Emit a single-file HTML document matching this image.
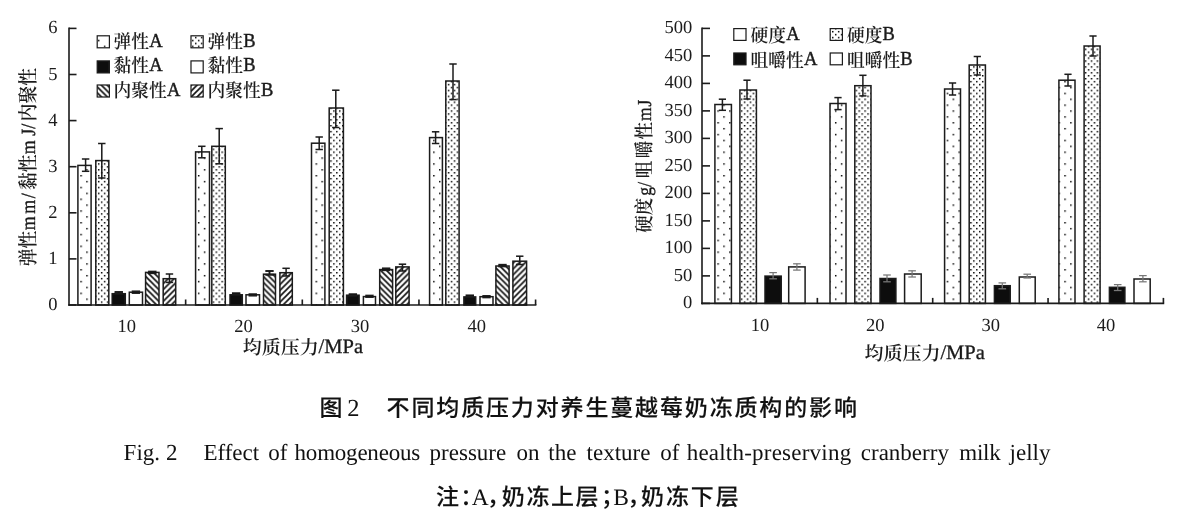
<!DOCTYPE html>
<html lang="zh-CN">
<head>
<meta charset="utf-8">
<title>图2 不同均质压力对养生蔓越莓奶冻质构的影响</title>
<style>
html,body{margin:0;padding:0;background:#fff;}
body{width:1183px;height:521px;overflow:hidden;}
svg{display:block;}
text{white-space:pre;text-rendering:geometricPrecision;}
</style>
</head>
<body>
<svg width="1183" height="521" viewBox="0 0 1183 521">
<defs>
<pattern id="pAL" patternUnits="userSpaceOnUse" width="11.76" height="11.76" x="3.90" y="4.47"><rect width="11.76" height="11.76" fill="#fff"/><rect x="0" y="0" width="1.47" height="1.47" fill="#000"/><rect x="5.88" y="5.88" width="1.47" height="1.47" fill="#000"/></pattern>
<pattern id="pBL" patternUnits="userSpaceOnUse" width="5.88" height="5.88" x="3.89" y="4.47"><rect width="5.88" height="5.88" fill="#fff"/><rect x="0" y="0" width="1.47" height="1.47" fill="#000"/><rect x="2.94" y="2.94" width="1.47" height="1.47" fill="#000"/></pattern>
<pattern id="pAR" patternUnits="userSpaceOnUse" width="11.76" height="11.76" x="0.01" y="4.47"><rect width="11.76" height="11.76" fill="#fff"/><rect x="0" y="0" width="1.47" height="1.47" fill="#000"/><rect x="5.88" y="5.88" width="1.47" height="1.47" fill="#000"/></pattern>
<pattern id="pBR" patternUnits="userSpaceOnUse" width="5.88" height="5.88" x="0.00" y="4.47"><rect width="5.88" height="5.88" fill="#fff"/><rect x="0" y="0" width="1.47" height="1.47" fill="#000"/><rect x="2.94" y="2.94" width="1.47" height="1.47" fill="#000"/></pattern>
<pattern id="pC" patternUnits="userSpaceOnUse" width="5.88" height="5.88" x="0" y="1.40"><rect width="5.88" height="5.88" fill="#fff"/><path d="M-1.47,-1.47 L7.35,7.35 M-1.47,4.41 L1.47,7.35 M4.41,-1.47 L7.35,1.47" stroke="#111" stroke-width="1.65"/></pattern>
<pattern id="pD" patternUnits="userSpaceOnUse" width="5.88" height="5.88" x="0" y="0.00"><rect width="5.88" height="5.88" fill="#fff"/><path d="M-1.47,7.35 L7.35,-1.47 M-1.47,1.47 L1.47,-1.47 M4.41,7.35 L7.35,4.41" stroke="#111" stroke-width="1.65"/></pattern>
<filter id="soft" x="0" y="0" width="1183" height="521" filterUnits="userSpaceOnUse"><feGaussianBlur stdDeviation="0.45"/></filter>
</defs>
<rect x="0" y="0" width="1183" height="521" fill="#fff"/>
<g filter="url(#soft)">
<rect x="77.90" y="165.40" width="13.20" height="139.60" fill="url(#pAL)" stroke="#1a1a1a" stroke-width="1.5"/>
<line x1="85.60" y1="159.00" x2="85.60" y2="171.30" stroke="#1a1a1a" stroke-width="1.5"/>
<line x1="81.90" y1="159.00" x2="89.30" y2="159.00" stroke="#1a1a1a" stroke-width="1.5"/>
<line x1="81.90" y1="171.30" x2="89.30" y2="171.30" stroke="#1a1a1a" stroke-width="1.5"/>
<rect x="95.80" y="160.60" width="13.00" height="144.40" fill="url(#pBL)" stroke="#1a1a1a" stroke-width="1.5"/>
<line x1="101.80" y1="143.50" x2="101.80" y2="178.00" stroke="#1a1a1a" stroke-width="1.5"/>
<line x1="98.10" y1="143.50" x2="105.50" y2="143.50" stroke="#1a1a1a" stroke-width="1.5"/>
<line x1="98.10" y1="178.00" x2="105.50" y2="178.00" stroke="#1a1a1a" stroke-width="1.5"/>
<rect x="112.20" y="293.70" width="13.10" height="11.30" fill="#111" stroke="#1a1a1a" stroke-width="1.5"/>
<line x1="118.75" y1="292.00" x2="118.75" y2="293.60" stroke="#1a1a1a" stroke-width="1.9"/>
<line x1="114.55" y1="292.00" x2="122.95" y2="292.00" stroke="#1a1a1a" stroke-width="1.9"/>
<line x1="114.55" y1="293.60" x2="122.95" y2="293.60" stroke="#1a1a1a" stroke-width="1.9"/>
<rect x="129.30" y="292.20" width="13.20" height="12.80" fill="#fff" stroke="#1a1a1a" stroke-width="1.5"/>
<line x1="135.90" y1="291.40" x2="135.90" y2="293.00" stroke="#1a1a1a" stroke-width="1.9"/>
<line x1="131.70" y1="291.40" x2="140.10" y2="291.40" stroke="#1a1a1a" stroke-width="1.9"/>
<line x1="131.70" y1="293.00" x2="140.10" y2="293.00" stroke="#1a1a1a" stroke-width="1.9"/>
<rect x="145.60" y="272.40" width="13.40" height="32.60" fill="url(#pC)" stroke="#1a1a1a" stroke-width="1.5"/>
<line x1="152.30" y1="271.60" x2="152.30" y2="273.20" stroke="#1a1a1a" stroke-width="1.9"/>
<line x1="148.10" y1="271.60" x2="156.50" y2="271.60" stroke="#1a1a1a" stroke-width="1.9"/>
<line x1="148.10" y1="273.20" x2="156.50" y2="273.20" stroke="#1a1a1a" stroke-width="1.9"/>
<rect x="163.20" y="278.70" width="12.50" height="26.30" fill="url(#pD)" stroke="#1a1a1a" stroke-width="1.5"/>
<line x1="169.45" y1="274.00" x2="169.45" y2="282.40" stroke="#1a1a1a" stroke-width="1.5"/>
<line x1="165.75" y1="274.00" x2="173.15" y2="274.00" stroke="#1a1a1a" stroke-width="1.5"/>
<line x1="165.75" y1="282.40" x2="173.15" y2="282.40" stroke="#1a1a1a" stroke-width="1.5"/>
<rect x="195.60" y="151.90" width="13.90" height="153.10" fill="url(#pAL)" stroke="#1a1a1a" stroke-width="1.5"/>
<line x1="201.80" y1="146.30" x2="201.80" y2="157.80" stroke="#1a1a1a" stroke-width="1.5"/>
<line x1="198.10" y1="146.30" x2="205.50" y2="146.30" stroke="#1a1a1a" stroke-width="1.5"/>
<line x1="198.10" y1="157.80" x2="205.50" y2="157.80" stroke="#1a1a1a" stroke-width="1.5"/>
<rect x="211.80" y="146.30" width="13.50" height="158.70" fill="url(#pBL)" stroke="#1a1a1a" stroke-width="1.5"/>
<line x1="219.20" y1="128.60" x2="219.20" y2="163.80" stroke="#1a1a1a" stroke-width="1.5"/>
<line x1="215.50" y1="128.60" x2="222.90" y2="128.60" stroke="#1a1a1a" stroke-width="1.5"/>
<line x1="215.50" y1="163.80" x2="222.90" y2="163.80" stroke="#1a1a1a" stroke-width="1.5"/>
<rect x="230.00" y="294.80" width="12.30" height="10.20" fill="#111" stroke="#1a1a1a" stroke-width="1.5"/>
<line x1="236.15" y1="293.20" x2="236.15" y2="294.60" stroke="#1a1a1a" stroke-width="1.9"/>
<line x1="231.95" y1="293.20" x2="240.35" y2="293.20" stroke="#1a1a1a" stroke-width="1.9"/>
<line x1="231.95" y1="294.60" x2="240.35" y2="294.60" stroke="#1a1a1a" stroke-width="1.9"/>
<rect x="246.00" y="294.80" width="13.50" height="10.20" fill="#fff" stroke="#1a1a1a" stroke-width="1.5"/>
<line x1="252.75" y1="294.20" x2="252.75" y2="295.60" stroke="#1a1a1a" stroke-width="1.9"/>
<line x1="248.55" y1="294.20" x2="256.95" y2="294.20" stroke="#1a1a1a" stroke-width="1.9"/>
<line x1="248.55" y1="295.60" x2="256.95" y2="295.60" stroke="#1a1a1a" stroke-width="1.9"/>
<rect x="263.50" y="274.20" width="12.00" height="30.80" fill="url(#pC)" stroke="#1a1a1a" stroke-width="1.5"/>
<line x1="269.50" y1="271.00" x2="269.50" y2="274.80" stroke="#1a1a1a" stroke-width="1.9"/>
<line x1="265.30" y1="271.00" x2="273.70" y2="271.00" stroke="#1a1a1a" stroke-width="1.9"/>
<line x1="265.30" y1="274.80" x2="273.70" y2="274.80" stroke="#1a1a1a" stroke-width="1.9"/>
<rect x="279.90" y="272.70" width="12.40" height="32.30" fill="url(#pD)" stroke="#1a1a1a" stroke-width="1.5"/>
<line x1="286.10" y1="268.30" x2="286.10" y2="276.00" stroke="#1a1a1a" stroke-width="1.5"/>
<line x1="282.40" y1="268.30" x2="289.80" y2="268.30" stroke="#1a1a1a" stroke-width="1.5"/>
<line x1="282.40" y1="276.00" x2="289.80" y2="276.00" stroke="#1a1a1a" stroke-width="1.5"/>
<rect x="311.50" y="143.20" width="13.40" height="161.80" fill="url(#pAL)" stroke="#1a1a1a" stroke-width="1.5"/>
<line x1="319.20" y1="137.00" x2="319.20" y2="149.50" stroke="#1a1a1a" stroke-width="1.5"/>
<line x1="315.50" y1="137.00" x2="322.90" y2="137.00" stroke="#1a1a1a" stroke-width="1.5"/>
<line x1="315.50" y1="149.50" x2="322.90" y2="149.50" stroke="#1a1a1a" stroke-width="1.5"/>
<rect x="329.20" y="108.00" width="14.20" height="197.00" fill="url(#pBL)" stroke="#1a1a1a" stroke-width="1.5"/>
<line x1="335.80" y1="90.20" x2="335.80" y2="127.50" stroke="#1a1a1a" stroke-width="1.5"/>
<line x1="332.10" y1="90.20" x2="339.50" y2="90.20" stroke="#1a1a1a" stroke-width="1.5"/>
<line x1="332.10" y1="127.50" x2="339.50" y2="127.50" stroke="#1a1a1a" stroke-width="1.5"/>
<rect x="346.60" y="295.20" width="12.50" height="9.80" fill="#111" stroke="#1a1a1a" stroke-width="1.5"/>
<line x1="352.85" y1="294.20" x2="352.85" y2="295.60" stroke="#1a1a1a" stroke-width="1.9"/>
<line x1="348.65" y1="294.20" x2="357.05" y2="294.20" stroke="#1a1a1a" stroke-width="1.9"/>
<line x1="348.65" y1="295.60" x2="357.05" y2="295.60" stroke="#1a1a1a" stroke-width="1.9"/>
<rect x="363.40" y="296.60" width="12.10" height="8.40" fill="#fff" stroke="#1a1a1a" stroke-width="1.5"/>
<line x1="369.45" y1="295.60" x2="369.45" y2="297.00" stroke="#1a1a1a" stroke-width="1.9"/>
<line x1="365.25" y1="295.60" x2="373.65" y2="295.60" stroke="#1a1a1a" stroke-width="1.9"/>
<line x1="365.25" y1="297.00" x2="373.65" y2="297.00" stroke="#1a1a1a" stroke-width="1.9"/>
<rect x="379.70" y="269.60" width="12.90" height="35.40" fill="url(#pC)" stroke="#1a1a1a" stroke-width="1.5"/>
<line x1="386.15" y1="268.40" x2="386.15" y2="270.20" stroke="#1a1a1a" stroke-width="1.9"/>
<line x1="381.95" y1="268.40" x2="390.35" y2="268.40" stroke="#1a1a1a" stroke-width="1.9"/>
<line x1="381.95" y1="270.20" x2="390.35" y2="270.20" stroke="#1a1a1a" stroke-width="1.9"/>
<rect x="395.80" y="266.90" width="13.30" height="38.10" fill="url(#pD)" stroke="#1a1a1a" stroke-width="1.5"/>
<line x1="402.45" y1="264.20" x2="402.45" y2="271.00" stroke="#1a1a1a" stroke-width="1.5"/>
<line x1="398.75" y1="264.20" x2="406.15" y2="264.20" stroke="#1a1a1a" stroke-width="1.5"/>
<line x1="398.75" y1="271.00" x2="406.15" y2="271.00" stroke="#1a1a1a" stroke-width="1.5"/>
<rect x="429.60" y="137.60" width="12.80" height="167.40" fill="url(#pAL)" stroke="#1a1a1a" stroke-width="1.5"/>
<line x1="435.60" y1="131.80" x2="435.60" y2="143.50" stroke="#1a1a1a" stroke-width="1.5"/>
<line x1="431.90" y1="131.80" x2="439.30" y2="131.80" stroke="#1a1a1a" stroke-width="1.5"/>
<line x1="431.90" y1="143.50" x2="439.30" y2="143.50" stroke="#1a1a1a" stroke-width="1.5"/>
<rect x="445.80" y="81.00" width="13.30" height="224.00" fill="url(#pBL)" stroke="#1a1a1a" stroke-width="1.5"/>
<line x1="453.00" y1="64.00" x2="453.00" y2="99.60" stroke="#1a1a1a" stroke-width="1.5"/>
<line x1="449.30" y1="64.00" x2="456.70" y2="64.00" stroke="#1a1a1a" stroke-width="1.5"/>
<line x1="449.30" y1="99.60" x2="456.70" y2="99.60" stroke="#1a1a1a" stroke-width="1.5"/>
<rect x="463.90" y="296.90" width="11.80" height="8.10" fill="#111" stroke="#1a1a1a" stroke-width="1.5"/>
<line x1="469.80" y1="295.40" x2="469.80" y2="296.80" stroke="#1a1a1a" stroke-width="1.9"/>
<line x1="465.60" y1="295.40" x2="474.00" y2="295.40" stroke="#1a1a1a" stroke-width="1.9"/>
<line x1="465.60" y1="296.80" x2="474.00" y2="296.80" stroke="#1a1a1a" stroke-width="1.9"/>
<rect x="480.00" y="296.70" width="13.00" height="8.30" fill="#fff" stroke="#1a1a1a" stroke-width="1.5"/>
<line x1="486.50" y1="296.00" x2="486.50" y2="297.40" stroke="#1a1a1a" stroke-width="1.9"/>
<line x1="482.30" y1="296.00" x2="490.70" y2="296.00" stroke="#1a1a1a" stroke-width="1.9"/>
<line x1="482.30" y1="297.40" x2="490.70" y2="297.40" stroke="#1a1a1a" stroke-width="1.9"/>
<rect x="495.90" y="266.00" width="13.20" height="39.00" fill="url(#pC)" stroke="#1a1a1a" stroke-width="1.5"/>
<line x1="502.50" y1="264.80" x2="502.50" y2="266.40" stroke="#1a1a1a" stroke-width="1.9"/>
<line x1="498.30" y1="264.80" x2="506.70" y2="264.80" stroke="#1a1a1a" stroke-width="1.9"/>
<line x1="498.30" y1="266.40" x2="506.70" y2="266.40" stroke="#1a1a1a" stroke-width="1.9"/>
<rect x="512.90" y="261.20" width="13.70" height="43.80" fill="url(#pD)" stroke="#1a1a1a" stroke-width="1.5"/>
<line x1="519.75" y1="256.20" x2="519.75" y2="264.50" stroke="#1a1a1a" stroke-width="1.5"/>
<line x1="516.05" y1="256.20" x2="523.45" y2="256.20" stroke="#1a1a1a" stroke-width="1.5"/>
<line x1="516.05" y1="264.50" x2="523.45" y2="264.50" stroke="#1a1a1a" stroke-width="1.5"/>
<line x1="69.00" y1="27.60" x2="69.00" y2="305.80" stroke="#1a1a1a" stroke-width="1.6"/>
<line x1="68.20" y1="305.00" x2="536.40" y2="305.00" stroke="#1a1a1a" stroke-width="1.6"/>
<line x1="69.00" y1="305.00" x2="76.50" y2="305.00" stroke="#1a1a1a" stroke-width="1.6"/>
<text x="57.40" y="310.00" font-size="18.5" text-anchor="end" font-family='"Liberation Serif", "Noto Serif CJK SC", serif' fill="#1a1a1a" >0</text>
<line x1="69.00" y1="258.90" x2="76.50" y2="258.90" stroke="#1a1a1a" stroke-width="1.6"/>
<text x="57.40" y="263.90" font-size="18.5" text-anchor="end" font-family='"Liberation Serif", "Noto Serif CJK SC", serif' fill="#1a1a1a" >1</text>
<line x1="69.00" y1="212.80" x2="76.50" y2="212.80" stroke="#1a1a1a" stroke-width="1.6"/>
<text x="57.40" y="217.80" font-size="18.5" text-anchor="end" font-family='"Liberation Serif", "Noto Serif CJK SC", serif' fill="#1a1a1a" >2</text>
<line x1="69.00" y1="166.70" x2="76.50" y2="166.70" stroke="#1a1a1a" stroke-width="1.6"/>
<text x="57.40" y="171.70" font-size="18.5" text-anchor="end" font-family='"Liberation Serif", "Noto Serif CJK SC", serif' fill="#1a1a1a" >3</text>
<line x1="69.00" y1="120.60" x2="76.50" y2="120.60" stroke="#1a1a1a" stroke-width="1.6"/>
<text x="57.40" y="125.60" font-size="18.5" text-anchor="end" font-family='"Liberation Serif", "Noto Serif CJK SC", serif' fill="#1a1a1a" >4</text>
<line x1="69.00" y1="74.50" x2="76.50" y2="74.50" stroke="#1a1a1a" stroke-width="1.6"/>
<text x="57.40" y="79.50" font-size="18.5" text-anchor="end" font-family='"Liberation Serif", "Noto Serif CJK SC", serif' fill="#1a1a1a" >5</text>
<line x1="69.00" y1="28.40" x2="76.50" y2="28.40" stroke="#1a1a1a" stroke-width="1.6"/>
<text x="57.40" y="33.40" font-size="18.5" text-anchor="end" font-family='"Liberation Serif", "Noto Serif CJK SC", serif' fill="#1a1a1a" >6</text>
<line x1="185.65" y1="305.00" x2="185.65" y2="299.50" stroke="#1a1a1a" stroke-width="1.6"/>
<line x1="302.30" y1="305.00" x2="302.30" y2="299.50" stroke="#1a1a1a" stroke-width="1.6"/>
<line x1="418.95" y1="305.00" x2="418.95" y2="299.50" stroke="#1a1a1a" stroke-width="1.6"/>
<line x1="535.60" y1="305.00" x2="535.60" y2="299.50" stroke="#1a1a1a" stroke-width="1.6"/>
<text x="126.83" y="332.40" font-size="18.5" text-anchor="middle" font-family='"Liberation Serif", "Noto Serif CJK SC", serif' fill="#1a1a1a" >10</text>
<text x="243.48" y="332.40" font-size="18.5" text-anchor="middle" font-family='"Liberation Serif", "Noto Serif CJK SC", serif' fill="#1a1a1a" >20</text>
<text x="360.12" y="332.40" font-size="18.5" text-anchor="middle" font-family='"Liberation Serif", "Noto Serif CJK SC", serif' fill="#1a1a1a" >30</text>
<text x="476.78" y="332.40" font-size="18.5" text-anchor="middle" font-family='"Liberation Serif", "Noto Serif CJK SC", serif' fill="#1a1a1a" >40</text>
<text x="242.80" y="353.90" font-size="19" text-anchor="start" font-family='"Liberation Serif", "Noto Serif CJK SC", serif' fill="#1a1a1a" font-weight="600">均质压力<tspan x="318.6" dy="-0.8" font-size="20.5" font-weight="400" stroke="#1a1a1a" stroke-width="0.3">/MPa</tspan></text>
<g transform="translate(34.6,266.3) rotate(-90) scale(1,1.13)">
<text x="0.00" y="0.00" font-size="17.8" text-anchor="start" font-family='"Liberation Serif", "Noto Serif CJK SC", serif' fill="#1a1a1a" font-weight="600"><tspan x="0.0">弹性</tspan><tspan x="36.0" font-weight="400" stroke="#1a1a1a" stroke-width="0.3">m</tspan><tspan x="52.5" font-weight="400" stroke="#1a1a1a" stroke-width="0.3">m</tspan><tspan x="68.0" font-weight="400" stroke="#1a1a1a" stroke-width="0.3">/</tspan><tspan x="76.3">黏性</tspan><tspan x="112.0" font-weight="400" stroke="#1a1a1a" stroke-width="0.3">m</tspan><tspan x="130.5" font-weight="400" stroke="#1a1a1a" stroke-width="0.3">J</tspan><tspan x="137.6" font-weight="400" stroke="#1a1a1a" stroke-width="0.3">/</tspan><tspan x="145.0">内聚性</tspan></text>
</g>
<rect x="97.20" y="35.80" width="12.20" height="12.00" fill="url(#pAL)" stroke="#1a1a1a" stroke-width="1.2"/>
<g transform="translate(0,48.00) scale(1,1.07)">
<text x="113.60" y="0.00" font-size="17.7" text-anchor="start" font-family='"Liberation Serif", "Noto Serif CJK SC", serif' fill="#1a1a1a" font-weight="600">弹性<tspan font-size="18.5" font-weight="400" dy="-1.2" dx="0.2" stroke="#1a1a1a" stroke-width="0.4">A</tspan></text>
</g>
<rect x="191.00" y="35.80" width="12.20" height="12.00" fill="url(#pBL)" stroke="#1a1a1a" stroke-width="1.2"/>
<g transform="translate(0,48.00) scale(1,1.07)">
<text x="207.60" y="0.00" font-size="17.7" text-anchor="start" font-family='"Liberation Serif", "Noto Serif CJK SC", serif' fill="#1a1a1a" font-weight="600">弹性<tspan font-size="18.5" font-weight="400" dy="-1.2" dx="0.2" stroke="#1a1a1a" stroke-width="0.4">B</tspan></text>
</g>
<rect x="97.20" y="60.90" width="12.20" height="12.00" fill="#111" stroke="#1a1a1a" stroke-width="1.2"/>
<g transform="translate(0,72.40) scale(1,1.07)">
<text x="113.60" y="0.00" font-size="17.7" text-anchor="start" font-family='"Liberation Serif", "Noto Serif CJK SC", serif' fill="#1a1a1a" font-weight="600">黏性<tspan font-size="18.5" font-weight="400" dy="-1.2" dx="0.2" stroke="#1a1a1a" stroke-width="0.4">A</tspan></text>
</g>
<rect x="191.00" y="60.90" width="12.20" height="12.00" fill="#fff" stroke="#1a1a1a" stroke-width="1.2"/>
<g transform="translate(0,72.40) scale(1,1.07)">
<text x="207.60" y="0.00" font-size="17.7" text-anchor="start" font-family='"Liberation Serif", "Noto Serif CJK SC", serif' fill="#1a1a1a" font-weight="600">黏性<tspan font-size="18.5" font-weight="400" dy="-1.2" dx="0.2" stroke="#1a1a1a" stroke-width="0.4">B</tspan></text>
</g>
<rect x="97.20" y="85.00" width="12.20" height="12.00" fill="url(#pC)" stroke="#1a1a1a" stroke-width="1.2"/>
<g transform="translate(0,96.80) scale(1,1.07)">
<text x="113.60" y="0.00" font-size="17.7" text-anchor="start" font-family='"Liberation Serif", "Noto Serif CJK SC", serif' fill="#1a1a1a" font-weight="600">内聚性<tspan font-size="18.5" font-weight="400" dy="-1.2" dx="0.2" stroke="#1a1a1a" stroke-width="0.4">A</tspan></text>
</g>
<rect x="191.00" y="85.00" width="12.20" height="12.00" fill="url(#pD)" stroke="#1a1a1a" stroke-width="1.2"/>
<g transform="translate(0,96.80) scale(1,1.07)">
<text x="207.60" y="0.00" font-size="17.7" text-anchor="start" font-family='"Liberation Serif", "Noto Serif CJK SC", serif' fill="#1a1a1a" font-weight="600">内聚性<tspan font-size="18.5" font-weight="400" dy="-1.2" dx="0.2" stroke="#1a1a1a" stroke-width="0.4">B</tspan></text>
</g>
<rect x="714.90" y="104.50" width="16.50" height="198.90" fill="url(#pAR)" stroke="#1a1a1a" stroke-width="1.5"/>
<line x1="722.40" y1="99.20" x2="722.40" y2="110.30" stroke="#1a1a1a" stroke-width="1.5"/>
<line x1="718.80" y1="99.20" x2="726.00" y2="99.20" stroke="#1a1a1a" stroke-width="1.5"/>
<line x1="718.80" y1="110.30" x2="726.00" y2="110.30" stroke="#1a1a1a" stroke-width="1.5"/>
<rect x="739.90" y="90.00" width="16.50" height="213.40" fill="url(#pBR)" stroke="#1a1a1a" stroke-width="1.5"/>
<line x1="747.00" y1="80.20" x2="747.00" y2="99.00" stroke="#1a1a1a" stroke-width="1.5"/>
<line x1="743.40" y1="80.20" x2="750.60" y2="80.20" stroke="#1a1a1a" stroke-width="1.5"/>
<line x1="743.40" y1="99.00" x2="750.60" y2="99.00" stroke="#1a1a1a" stroke-width="1.5"/>
<rect x="765.00" y="276.10" width="16.20" height="27.30" fill="#111" stroke="#1a1a1a" stroke-width="1.5"/>
<line x1="773.10" y1="272.60" x2="773.10" y2="278.80" stroke="#777" stroke-width="1.25"/>
<line x1="769.30" y1="272.60" x2="776.90" y2="272.60" stroke="#777" stroke-width="1.25"/>
<line x1="769.30" y1="278.80" x2="776.90" y2="278.80" stroke="#777" stroke-width="1.25"/>
<rect x="788.70" y="266.90" width="16.40" height="36.50" fill="#fff" stroke="#1a1a1a" stroke-width="1.5"/>
<line x1="796.90" y1="263.80" x2="796.90" y2="270.10" stroke="#777" stroke-width="1.25"/>
<line x1="793.10" y1="263.80" x2="800.70" y2="263.80" stroke="#777" stroke-width="1.25"/>
<line x1="793.10" y1="270.10" x2="800.70" y2="270.10" stroke="#777" stroke-width="1.25"/>
<rect x="830.00" y="103.50" width="16.00" height="199.90" fill="url(#pAR)" stroke="#1a1a1a" stroke-width="1.5"/>
<line x1="838.00" y1="97.60" x2="838.00" y2="109.60" stroke="#1a1a1a" stroke-width="1.5"/>
<line x1="834.40" y1="97.60" x2="841.60" y2="97.60" stroke="#1a1a1a" stroke-width="1.5"/>
<line x1="834.40" y1="109.60" x2="841.60" y2="109.60" stroke="#1a1a1a" stroke-width="1.5"/>
<rect x="854.80" y="85.70" width="16.20" height="217.70" fill="url(#pBR)" stroke="#1a1a1a" stroke-width="1.5"/>
<line x1="862.90" y1="75.30" x2="862.90" y2="95.90" stroke="#1a1a1a" stroke-width="1.5"/>
<line x1="859.30" y1="75.30" x2="866.50" y2="75.30" stroke="#1a1a1a" stroke-width="1.5"/>
<line x1="859.30" y1="95.90" x2="866.50" y2="95.90" stroke="#1a1a1a" stroke-width="1.5"/>
<rect x="880.00" y="278.50" width="15.90" height="24.90" fill="#111" stroke="#1a1a1a" stroke-width="1.5"/>
<line x1="887.00" y1="275.00" x2="887.00" y2="281.80" stroke="#777" stroke-width="1.25"/>
<line x1="883.20" y1="275.00" x2="890.80" y2="275.00" stroke="#777" stroke-width="1.25"/>
<line x1="883.20" y1="281.80" x2="890.80" y2="281.80" stroke="#777" stroke-width="1.25"/>
<rect x="904.60" y="274.00" width="16.60" height="29.40" fill="#fff" stroke="#1a1a1a" stroke-width="1.5"/>
<line x1="912.10" y1="270.80" x2="912.10" y2="277.00" stroke="#777" stroke-width="1.25"/>
<line x1="908.30" y1="270.80" x2="915.90" y2="270.80" stroke="#777" stroke-width="1.25"/>
<line x1="908.30" y1="277.00" x2="915.90" y2="277.00" stroke="#777" stroke-width="1.25"/>
<rect x="944.60" y="89.00" width="15.90" height="214.40" fill="url(#pAR)" stroke="#1a1a1a" stroke-width="1.5"/>
<line x1="952.55" y1="83.00" x2="952.55" y2="95.00" stroke="#1a1a1a" stroke-width="1.5"/>
<line x1="948.95" y1="83.00" x2="956.15" y2="83.00" stroke="#1a1a1a" stroke-width="1.5"/>
<line x1="948.95" y1="95.00" x2="956.15" y2="95.00" stroke="#1a1a1a" stroke-width="1.5"/>
<rect x="969.20" y="65.00" width="16.20" height="238.40" fill="url(#pBR)" stroke="#1a1a1a" stroke-width="1.5"/>
<line x1="977.30" y1="56.50" x2="977.30" y2="75.00" stroke="#1a1a1a" stroke-width="1.5"/>
<line x1="973.70" y1="56.50" x2="980.90" y2="56.50" stroke="#1a1a1a" stroke-width="1.5"/>
<line x1="973.70" y1="75.00" x2="980.90" y2="75.00" stroke="#1a1a1a" stroke-width="1.5"/>
<rect x="994.40" y="285.70" width="15.80" height="17.70" fill="#111" stroke="#1a1a1a" stroke-width="1.5"/>
<line x1="1002.30" y1="282.90" x2="1002.30" y2="288.80" stroke="#777" stroke-width="1.25"/>
<line x1="998.50" y1="282.90" x2="1006.10" y2="282.90" stroke="#777" stroke-width="1.25"/>
<line x1="998.50" y1="288.80" x2="1006.10" y2="288.80" stroke="#777" stroke-width="1.25"/>
<rect x="1019.30" y="277.00" width="15.90" height="26.40" fill="#fff" stroke="#1a1a1a" stroke-width="1.5"/>
<line x1="1027.25" y1="274.20" x2="1027.25" y2="278.00" stroke="#777" stroke-width="1.25"/>
<line x1="1023.45" y1="274.20" x2="1031.05" y2="274.20" stroke="#777" stroke-width="1.25"/>
<line x1="1023.45" y1="278.00" x2="1031.05" y2="278.00" stroke="#777" stroke-width="1.25"/>
<rect x="1058.90" y="80.20" width="16.10" height="223.20" fill="url(#pAR)" stroke="#1a1a1a" stroke-width="1.5"/>
<line x1="1068.00" y1="74.30" x2="1068.00" y2="86.00" stroke="#1a1a1a" stroke-width="1.5"/>
<line x1="1064.40" y1="74.30" x2="1071.60" y2="74.30" stroke="#1a1a1a" stroke-width="1.5"/>
<line x1="1064.40" y1="86.00" x2="1071.60" y2="86.00" stroke="#1a1a1a" stroke-width="1.5"/>
<rect x="1084.10" y="46.00" width="16.00" height="257.40" fill="url(#pBR)" stroke="#1a1a1a" stroke-width="1.5"/>
<line x1="1093.00" y1="36.00" x2="1093.00" y2="56.00" stroke="#1a1a1a" stroke-width="1.5"/>
<line x1="1089.40" y1="36.00" x2="1096.60" y2="36.00" stroke="#1a1a1a" stroke-width="1.5"/>
<line x1="1089.40" y1="56.00" x2="1096.60" y2="56.00" stroke="#1a1a1a" stroke-width="1.5"/>
<rect x="1109.40" y="287.30" width="15.50" height="16.10" fill="#111" stroke="#1a1a1a" stroke-width="1.5"/>
<line x1="1117.70" y1="284.60" x2="1117.70" y2="290.50" stroke="#777" stroke-width="1.25"/>
<line x1="1113.90" y1="284.60" x2="1121.50" y2="284.60" stroke="#777" stroke-width="1.25"/>
<line x1="1113.90" y1="290.50" x2="1121.50" y2="290.50" stroke="#777" stroke-width="1.25"/>
<rect x="1134.00" y="279.00" width="16.20" height="24.40" fill="#fff" stroke="#1a1a1a" stroke-width="1.5"/>
<line x1="1142.90" y1="275.60" x2="1142.90" y2="281.80" stroke="#777" stroke-width="1.25"/>
<line x1="1139.10" y1="275.60" x2="1146.70" y2="275.60" stroke="#777" stroke-width="1.25"/>
<line x1="1139.10" y1="281.80" x2="1146.70" y2="281.80" stroke="#777" stroke-width="1.25"/>
<line x1="702.00" y1="27.60" x2="702.00" y2="304.20" stroke="#1a1a1a" stroke-width="1.6"/>
<line x1="701.20" y1="303.40" x2="1164.20" y2="303.40" stroke="#1a1a1a" stroke-width="1.6"/>
<line x1="702.00" y1="303.40" x2="710.00" y2="303.40" stroke="#1a1a1a" stroke-width="1.6"/>
<text x="692.20" y="308.40" font-size="18.5" text-anchor="end" font-family='"Liberation Serif", "Noto Serif CJK SC", serif' fill="#1a1a1a" >0</text>
<line x1="702.00" y1="275.90" x2="710.00" y2="275.90" stroke="#1a1a1a" stroke-width="1.6"/>
<text x="692.20" y="280.90" font-size="18.5" text-anchor="end" font-family='"Liberation Serif", "Noto Serif CJK SC", serif' fill="#1a1a1a" >50</text>
<line x1="702.00" y1="248.40" x2="710.00" y2="248.40" stroke="#1a1a1a" stroke-width="1.6"/>
<text x="692.20" y="253.40" font-size="18.5" text-anchor="end" font-family='"Liberation Serif", "Noto Serif CJK SC", serif' fill="#1a1a1a" >100</text>
<line x1="702.00" y1="220.90" x2="710.00" y2="220.90" stroke="#1a1a1a" stroke-width="1.6"/>
<text x="692.20" y="225.90" font-size="18.5" text-anchor="end" font-family='"Liberation Serif", "Noto Serif CJK SC", serif' fill="#1a1a1a" >150</text>
<line x1="702.00" y1="193.40" x2="710.00" y2="193.40" stroke="#1a1a1a" stroke-width="1.6"/>
<text x="692.20" y="198.40" font-size="18.5" text-anchor="end" font-family='"Liberation Serif", "Noto Serif CJK SC", serif' fill="#1a1a1a" >200</text>
<line x1="702.00" y1="165.90" x2="710.00" y2="165.90" stroke="#1a1a1a" stroke-width="1.6"/>
<text x="692.20" y="170.90" font-size="18.5" text-anchor="end" font-family='"Liberation Serif", "Noto Serif CJK SC", serif' fill="#1a1a1a" >250</text>
<line x1="702.00" y1="138.40" x2="710.00" y2="138.40" stroke="#1a1a1a" stroke-width="1.6"/>
<text x="692.20" y="143.40" font-size="18.5" text-anchor="end" font-family='"Liberation Serif", "Noto Serif CJK SC", serif' fill="#1a1a1a" >300</text>
<line x1="702.00" y1="110.90" x2="710.00" y2="110.90" stroke="#1a1a1a" stroke-width="1.6"/>
<text x="692.20" y="115.90" font-size="18.5" text-anchor="end" font-family='"Liberation Serif", "Noto Serif CJK SC", serif' fill="#1a1a1a" >350</text>
<line x1="702.00" y1="83.40" x2="710.00" y2="83.40" stroke="#1a1a1a" stroke-width="1.6"/>
<text x="692.20" y="88.40" font-size="18.5" text-anchor="end" font-family='"Liberation Serif", "Noto Serif CJK SC", serif' fill="#1a1a1a" >400</text>
<line x1="702.00" y1="55.90" x2="710.00" y2="55.90" stroke="#1a1a1a" stroke-width="1.6"/>
<text x="692.20" y="60.90" font-size="18.5" text-anchor="end" font-family='"Liberation Serif", "Noto Serif CJK SC", serif' fill="#1a1a1a" >450</text>
<line x1="702.00" y1="28.40" x2="710.00" y2="28.40" stroke="#1a1a1a" stroke-width="1.6"/>
<text x="692.20" y="33.40" font-size="18.5" text-anchor="end" font-family='"Liberation Serif", "Noto Serif CJK SC", serif' fill="#1a1a1a" >500</text>
<line x1="817.35" y1="303.40" x2="817.35" y2="297.90" stroke="#1a1a1a" stroke-width="1.6"/>
<line x1="932.70" y1="303.40" x2="932.70" y2="297.90" stroke="#1a1a1a" stroke-width="1.6"/>
<line x1="1048.05" y1="303.40" x2="1048.05" y2="297.90" stroke="#1a1a1a" stroke-width="1.6"/>
<line x1="1163.40" y1="303.40" x2="1163.40" y2="297.90" stroke="#1a1a1a" stroke-width="1.6"/>
<text x="759.97" y="330.80" font-size="18.5" text-anchor="middle" font-family='"Liberation Serif", "Noto Serif CJK SC", serif' fill="#1a1a1a" >10</text>
<text x="875.33" y="330.80" font-size="18.5" text-anchor="middle" font-family='"Liberation Serif", "Noto Serif CJK SC", serif' fill="#1a1a1a" >20</text>
<text x="990.67" y="330.80" font-size="18.5" text-anchor="middle" font-family='"Liberation Serif", "Noto Serif CJK SC", serif' fill="#1a1a1a" >30</text>
<text x="1106.03" y="330.80" font-size="18.5" text-anchor="middle" font-family='"Liberation Serif", "Noto Serif CJK SC", serif' fill="#1a1a1a" >40</text>
<text x="864.50" y="359.60" font-size="19" text-anchor="start" font-family='"Liberation Serif", "Noto Serif CJK SC", serif' fill="#1a1a1a" font-weight="600">均质压力<tspan x="940.4" dy="-0.8" font-size="20.5" font-weight="400" stroke="#1a1a1a" stroke-width="0.3">/MPa</tspan></text>
<g transform="translate(650.5,232.8) rotate(-90) scale(1,1.13)">
<text x="0.00" y="0.00" font-size="17.5" text-anchor="start" font-family='"Liberation Serif", "Noto Serif CJK SC", serif' fill="#1a1a1a" font-weight="600"><tspan x="0.0">硬度</tspan><tspan x="37.0" font-weight="400" stroke="#1a1a1a" stroke-width="0.3">g</tspan><tspan x="46.0" font-weight="400" stroke="#1a1a1a" stroke-width="0.3">/</tspan><tspan x="54.6">咀</tspan><tspan x="74.6">嚼</tspan><tspan x="93.2">性</tspan><tspan x="111.8" font-weight="400" stroke="#1a1a1a" stroke-width="0.3">m</tspan><tspan x="126.2" font-weight="400" stroke="#1a1a1a" stroke-width="0.3">J</tspan></text>
</g>
<rect x="733.80" y="28.60" width="12.20" height="11.80" fill="#fff" stroke="#1a1a1a" stroke-width="1.2"/>
<g transform="translate(0,41.60) scale(1,1.07)">
<text x="750.60" y="0.00" font-size="17.7" text-anchor="start" font-family='"Liberation Serif", "Noto Serif CJK SC", serif' fill="#1a1a1a" font-weight="600">硬度<tspan font-size="18.5" font-weight="400" dy="-1.2" dx="0.2" stroke="#1a1a1a" stroke-width="0.4">A</tspan></text>
</g>
<rect x="830.20" y="28.60" width="12.20" height="11.80" fill="url(#pBR)" stroke="#1a1a1a" stroke-width="1.2"/>
<g transform="translate(0,41.60) scale(1,1.07)">
<text x="847.00" y="0.00" font-size="17.7" text-anchor="start" font-family='"Liberation Serif", "Noto Serif CJK SC", serif' fill="#1a1a1a" font-weight="600">硬度<tspan font-size="18.5" font-weight="400" dy="-1.2" dx="0.2" stroke="#1a1a1a" stroke-width="0.4">B</tspan></text>
</g>
<rect x="733.80" y="53.00" width="12.20" height="11.80" fill="#111" stroke="#1a1a1a" stroke-width="1.2"/>
<g transform="translate(0,66.60) scale(1,1.07)">
<text x="750.60" y="0.00" font-size="17.7" text-anchor="start" font-family='"Liberation Serif", "Noto Serif CJK SC", serif' fill="#1a1a1a" font-weight="600">咀嚼性<tspan font-size="18.5" font-weight="400" dy="-1.2" dx="0.2" stroke="#1a1a1a" stroke-width="0.4">A</tspan></text>
</g>
<rect x="830.20" y="53.00" width="12.20" height="11.80" fill="#fff" stroke="#1a1a1a" stroke-width="1.2"/>
<g transform="translate(0,66.60) scale(1,1.07)">
<text x="847.00" y="0.00" font-size="17.7" text-anchor="start" font-family='"Liberation Serif", "Noto Serif CJK SC", serif' fill="#1a1a1a" font-weight="600">咀嚼性<tspan font-size="18.5" font-weight="400" dy="-1.2" dx="0.2" stroke="#1a1a1a" stroke-width="0.4">B</tspan></text>
</g>
</g>
<text x="319.40" y="416.20" font-size="23.0" text-anchor="start" font-family='"Liberation Sans", "Noto Sans CJK SC", sans-serif' fill="#111" font-weight="500" stroke="#111" stroke-width="0.12">图<tspan x="347.3" dy="-0.6" font-family='"Liberation Serif", serif' font-weight="400" stroke-width="0" font-size="24.5">2</tspan></text>
<text x="386.60" y="416.20" font-size="23.0" text-anchor="start" font-family='"Liberation Sans", "Noto Sans CJK SC", sans-serif' fill="#111" font-weight="500" letter-spacing="1.85" stroke="#111" stroke-width="0.12">不同均质压力对养生蔓越莓奶冻质构的影响</text>
<text x="123.60" y="459.70" font-size="23" text-anchor="start" font-family='"Liberation Serif", "Noto Serif CJK SC", serif' fill="#111" >Fig. <tspan x="166.0">2</tspan></text>
<text x="203.60" y="459.70" font-size="23" text-anchor="start" font-family='"Liberation Serif", "Noto Serif CJK SC", serif' fill="#111" ><tspan x="203.4">Effect </tspan><tspan x="268.3">of </tspan><tspan x="294.6" letter-spacing="-0.22">homogeneous </tspan><tspan x="429.6">pressure </tspan><tspan x="516.6">on </tspan><tspan x="548.3">the </tspan><tspan x="586.6">texture </tspan><tspan x="660.3">of </tspan><tspan x="686.7" letter-spacing="0.22">health-preserving </tspan><tspan x="860.8">cranberry </tspan><tspan x="959.2" letter-spacing="-0.2">milk </tspan><tspan x="1009.6">jelly</tspan></text>
<text x="436.00" y="505.40" font-size="23" text-anchor="start" font-family='"Liberation Sans", "Noto Sans CJK SC", sans-serif' fill="#111" font-weight="500" stroke="#111" stroke-width="0.12">注<tspan x="460.3">：</tspan><tspan x="471.8" font-family='"Liberation Serif", serif' font-weight="400" stroke-width="0" font-size="23.5">A</tspan><tspan x="487.0">，</tspan><tspan x="501.8" letter-spacing="1.6">奶冻上层</tspan><tspan x="601">；</tspan><tspan x="613.2" font-family='"Liberation Serif", serif' font-weight="400" stroke-width="0" font-size="23.5">B</tspan><tspan x="627.6">，</tspan><tspan x="641.0" letter-spacing="1.9">奶冻下层</tspan></text>
</svg>
</body>
</html>
